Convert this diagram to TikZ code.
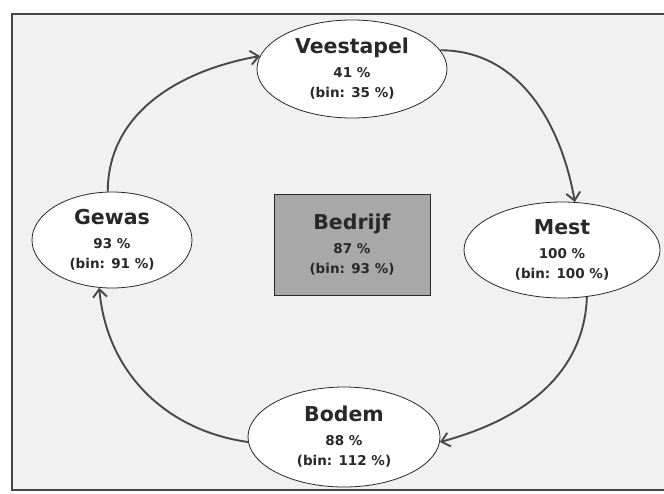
\documentclass[tikz,border=0pt]{standalone}
\usepackage{fontspec}
\setmainfont{DejaVu Sans}
\definecolor{paper}{RGB}{241,241,241}
\definecolor{framegray}{RGB}{70,70,70}
\definecolor{linegray}{RGB}{72,72,72}
\definecolor{boxgray}{RGB}{168,168,168}
\definecolor{inkdark}{RGB}{40,40,40}
\usetikzlibrary{arrows.meta, shapes.geometric}
\newcommand{\kop}[1]{{\fontsize{20.5}{24}\selectfont #1}\\[4pt]}

\begin{document}
\begin{tikzpicture}[x=1pt, y=1pt,
    partbox/.style={ellipse, draw=inkdark, fill=white, line width=0.8pt,
      inner sep=0pt, text=inkdark, align=center,
      font=\fontsize{13.5}{20}\selectfont\bfseries},
    farmbox/.style={rectangle, draw=inkdark, fill=boxgray, line width=0.8pt,
      inner sep=0pt, text=inkdark, align=center,
      font=\fontsize{13.5}{20}\selectfont\bfseries},
    flow/.style={-{Straight Barb[length=8pt, width=14pt]}, linegray, line width=1.9pt},
  ]
    \useasboundingbox (0,0) rectangle (664,-493);
    \fill[paper] (12,-14) rectangle (664,-490);
    \draw[framegray, line width=1.3pt] (664,-14) -- (12,-14) -- (12,-490) -- (664,-490);

    \node[partbox, minimum width=190, minimum height=98] (vee) at (352,-69)
      {\kop{Veestapel}41 \%\\(bin: 35 \%)};
    \node[partbox, minimum width=196, minimum height=96] (mest) at (562,-250)
      {\kop{Mest}100 \%\\(bin: 100 \%)};
    \node[partbox, minimum width=192, minimum height=100] (bodem) at (344,-437)
      {\kop{Bodem}88 \%\\(bin: 112 \%)};
    \node[partbox, minimum width=160, minimum height=96] (gewas) at (112,-240)
      {\kop{Gewas}93 \%\\(bin: 91 \%)};
    \node[farmbox, minimum width=156, minimum height=101] (bedrijf) at (352,-244.5)
      {\kop{Bedrijf}87 \%\\(bin: 93 \%)};

    \draw[flow] (gewas.95) to[out=90, in=190] (vee.172);
    \draw[flow] (vee.12) to[out=0, in=100] (mest.75);
    \draw[flow] (mest.298) to[out=-92, in=15] (bodem.357);
    \draw[flow] (bodem.183) to[out=172, in=-85] (gewas.255);
  \end{tikzpicture}
\end{document}
